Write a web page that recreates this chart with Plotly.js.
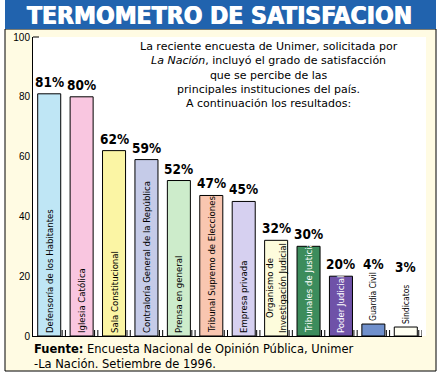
<!DOCTYPE html>
<html><head><meta charset="utf-8">
<script src="https://cdn.plot.ly/plotly-3.0.1.min.js"></script>
<style>html,body{margin:0;padding:0;background:#fff;}#chart{width:440px;height:374px;}</style>
</head><body><div id="chart"></div>
<script>
// ---- data ----
const categories = ["Defensoría de los Habitantes","Iglesia Católica","Sala Constitucional","Contraloría General de la República","Prensa en general","Tribunal Supremo de Elecciones","Empresa privada","Organismo de Investigación Judicial","Tribunales de Justicia","Poder Judicial","Guardia Civil","Sindicatos"];
const barLabels = ["Defensoría de los Habitantes","Iglesia Católica","Sala Constitucional","Contraloría General de la República","Prensa en general","Tribunal Supremo de Elecciones","Empresa privada","Organismo de<br>Investigación Judicial","Tribunales de Justicia","Poder Judicial","Guardia Civil","Sindicatos"];
const values = [81,80,62,59,52,47,45,32,30,20,4,3];
const valueLabels = values.map(v => v + '%');
const yTickVals = [0,20,40,60,80,100];
const yTickText = ['0','20','40','60','80','100'];

// ---- style ----
const barColors = ['#bfe6f5','#f9c6e0','#fbf5a4','#c5cbe8','#cdeccb','#f9c6b0','#d6d0f0','#fdfcdc','#3c8c5c','#6f52a8','#7090cc','#fffff2'];
const labelColors = ['#000','#000','#000','#000','#000','#000','#000','#000','#fff','#fff','#000','#000'];
const COND = '"DejaVu Sans Condensed", "Liberation Sans Narrow", Arial, sans-serif';
const SANS = '"Liberation Sans", Arial, sans-serif';
const WIDE = '"DejaVu Sans", Verdana, sans-serif';
const L = 33, R = 422, T = 37, B = 336, W = 440, H = 374;
const px = x => (x - L) / (R - L);
const py = y => (B - y) / (B - T);
const outsideLimit = 10;

const textpos = values.map(v => v < outsideLimit ? 'outside' : 'inside');

const bars = {
  type: 'bar',
  x: categories,
  y: values,
  text: barLabels,
  textposition: textpos,
  insidetextanchor: 'start',
  textangle: -90,
  constraintext: 'none',
  cliponaxis: false,
  textfont: {family: COND, size: 9.5, color: labelColors},
  insidetextfont: {family: COND, size: 9.5, color: labelColors},
  outsidetextfont: {family: COND, size: 8.5, color: labelColors},
  marker: {
    color: barColors,
    line: {color: '#000', width: 1}
  },
  width: 0.71,
  hoverinfo: 'none'
};

const annotations = [];
values.forEach((v, i) => {
  annotations.push({
    x: categories[i], y: v, xref: 'x', yref: 'y',
    text: valueLabels[i], showarrow: false,
    yanchor: 'bottom', xanchor: 'center',
    yshift: v < outsideLimit ? 50 : 2,
    font: {family: COND, size: 13.5, color: '#000', weight: 'bold'}
  });
});

const descText = [
  'La reciente encuesta de Unimer, solicitada por',
  '<i>La Nación</i>, incluyó el grado de satisfacción',
  'que se percibe de las',
  'principales instituciones del país.',
  'A continuación los resultados:'
].join('<br>');
annotations.push({
  xref: 'paper', yref: 'paper', x: px(269), y: py(75),
  xanchor: 'center', yanchor: 'middle', showarrow: false, align: 'center',
  text: descText, font: {family: WIDE, size: 11, color: '#000'}
});
annotations.push({
  xref: 'paper', yref: 'paper', x: px(32), y: py(356.5),
  xanchor: 'left', yanchor: 'middle', showarrow: false, align: 'left',
  text: '<b>Fuente:</b> Encuesta Nacional de Opinión Pública, Unimer<br>-La Nación. Setiembre de 1996.',
  font: {family: WIDE, size: 11.5, color: '#000'}
});

const shapes = [
  {type: 'rect', xref: 'paper', yref: 'paper', x0: px(5), x1: px(436), y0: py(371), y1: py(29),
   fillcolor: '#fffbe3', line: {color: '#000', width: 1}, layer: 'below'},
  {type: 'rect', xref: 'paper', yref: 'paper', x0: px(33), x1: px(426), y0: py(336), y1: py(37),
   fillcolor: '#ffffff', line: {width: 0}, layer: 'below'},
  {type: 'rect', xref: 'paper', yref: 'paper', x0: px(5), x1: px(436), y0: py(29), y1: py(0),
   fillcolor: '#2163ae', line: {width: 0}, layer: 'below'},
  {type: 'line', xref: 'paper', yref: 'paper', x0: 0, x1: px(39), y0: 1, y1: 1,
   line: {color: '#000', width: 1}}
];
for (let i = 0; i < categories.length; i++) {
  [i + 0.4, i + 0.5].forEach(xv => {
    shapes.push({type: 'line', xref: 'x', yref: 'paper', x0: xv, x1: xv, y0: 0, y1: 6 / (B - T),
      line: {color: '#000', width: 1}});
  });
}

const layout = {
  width: W, height: H,
  margin: {l: L, r: W - R, t: T, b: H - B, pad: 0},
  paper_bgcolor: '#ffffff',
  plot_bgcolor: 'rgba(0,0,0,0)',
  showlegend: false,
  title: {
    text: 'TERMOMETRO DE SATISFACION',
    x: px(219), xanchor: 'center', xref: 'paper',
    y: 1 - 15 / H, yanchor: 'middle', yref: 'container',
    font: {family: COND, size: 24.5, color: '#ffffff', weight: 'bold', shadow: '1px 0 0 #fff'}
  },
  xaxis: {
    type: 'category', range: [-0.5, 11.5],
    showline: true, linecolor: '#000', linewidth: 1,
    showticklabels: false, ticks: '', showgrid: false, zeroline: false, fixedrange: true
  },
  yaxis: {
    range: [0, 100], tickvals: yTickVals, ticktext: yTickText,
    showline: true, linecolor: '#000', linewidth: 1,
    ticks: '', showgrid: false, zeroline: false,
    tickfont: {family: SANS, size: 10, color: '#000'}, fixedrange: true
  },
  annotations: annotations,
  shapes: shapes
};

Plotly.newPlot('chart', [bars], layout, {displayModeBar: false, staticPlot: true});
</script>
</body></html>
